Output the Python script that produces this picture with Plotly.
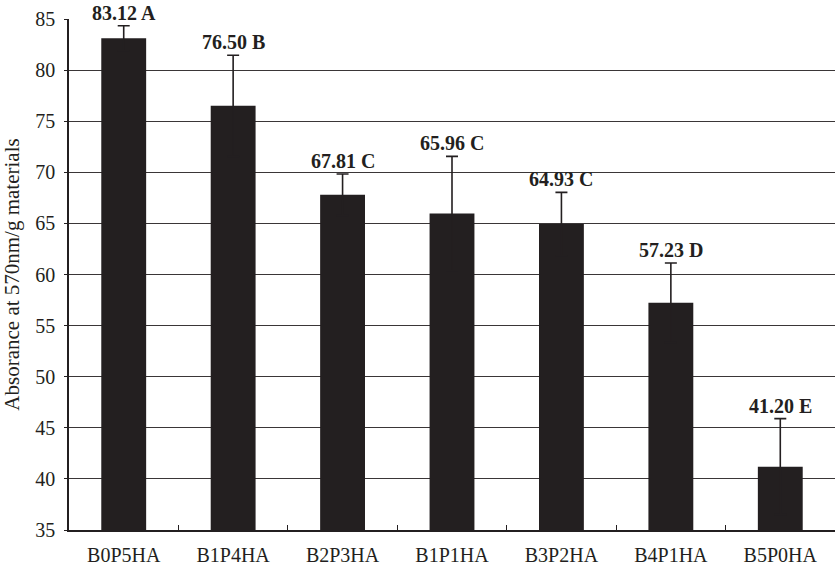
import plotly.graph_objects as go

categories = ["B0P5HA", "B1P4HA", "B2P3HA", "B1P1HA", "B3P2HA", "B4P1HA", "B5P0HA"]
means = [83.12, 76.50, 67.81, 65.96, 64.93, 57.23, 41.20]
errors = [1.22, 4.95, 2.02, 5.60, 3.11, 3.90, 4.70]
letters = ["A", "B", "C", "C", "C", "D", "E"]
y_ticks = [35, 40, 45, 50, 55, 60, 65, 70, 75, 80, 85]

INK = "#231f20"
FONT = "Liberation Serif"

fig = go.Figure()
fig.add_trace(go.Bar(
    x=categories,
    y=means,
    base=0,
    width=0.41,
    marker=dict(color=INK, line=dict(width=0)),
    error_y=dict(
        type="data",
        symmetric=True,
        array=errors,
        color=INK,
        thickness=1.6,
        width=6,
    ),
    showlegend=False,
))

for c, m, e, l in zip(categories, means, errors, letters):
    fig.add_annotation(
        x=c, y=m + e, xref="x", yref="y",
        text=f"<b>{m:.2f} {l}</b>",
        showarrow=False, yanchor="bottom", yshift=0,
        font=dict(family=FONT, size=20, color=INK),
    )

fig.update_layout(
    width=835, height=567,
    margin=dict(l=69, r=0, t=19, b=37),
    paper_bgcolor="white", plot_bgcolor="white",
    font=dict(family=FONT, color=INK),
    bargap=0.59,
)
fig.update_xaxes(
    range=[-0.5, 6.5],
    automargin=False,
    showline=True, linecolor=INK, linewidth=1.5,
    ticks="inside", tickson="boundaries", ticklen=5, tickcolor=INK, tickwidth=1.2,
    tickfont=dict(family=FONT, size=20, color=INK),
    ticklabelstandoff=6,
    showgrid=False,
)
fig.update_yaxes(
    range=[35, 85],
    automargin=False,
    tickvals=y_ticks,
    showline=True, linecolor=INK, linewidth=1.5,
    ticks="outside", ticklen=3, tickcolor=INK,
    tickfont=dict(family=FONT, size=20, color=INK),
    ticklabelstandoff=5,
    showgrid=True, gridcolor="#3a3637", gridwidth=1.2,
    zeroline=False,
    title=dict(text="Absorance at 570nm/g materials",
               font=dict(family=FONT, size=21, color=INK), standoff=16),
)

fig.write_html(
    "out.html",
    config={"displayModeBar": False},
    post_script="document.body.style.margin='0';document.body.style.overflow='hidden';",
)
